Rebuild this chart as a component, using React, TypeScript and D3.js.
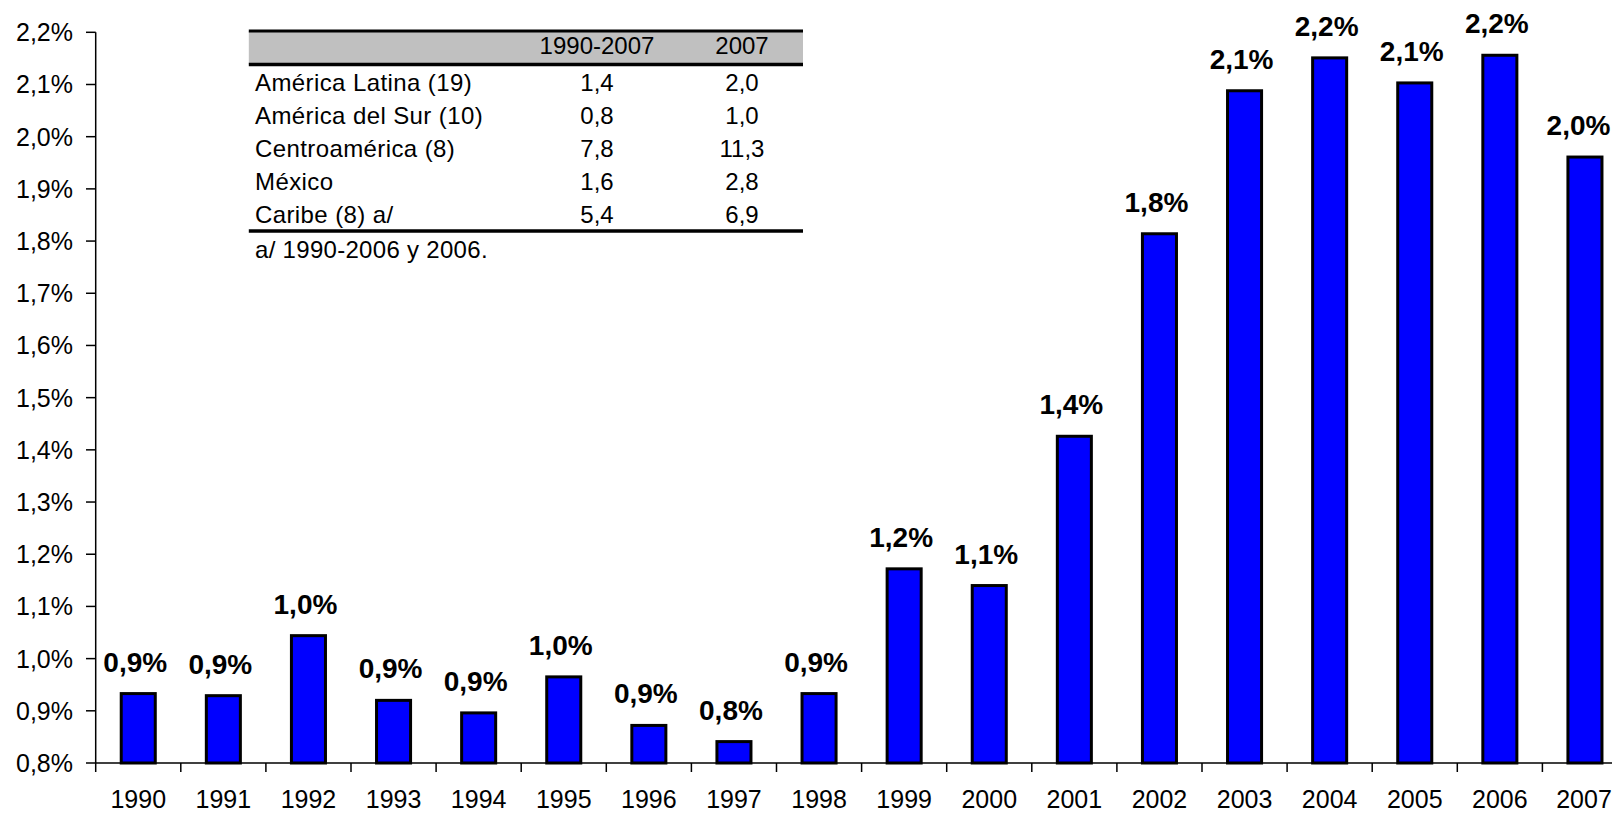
import React from "react";
import * as d3 from "d3";

const years = ["1990","1991","1992","1993","1994","1995","1996","1997","1998","1999","2000","2001","2002","2003","2004","2005","2006","2007"];
const values = [0.933,0.929,1.044,0.920,0.896,0.965,0.872,0.841,0.933,1.172,1.140,1.426,1.814,2.088,2.151,2.103,2.156,1.961];
const yTicks = [0.8,0.9,1.0,1.1,1.2,1.3,1.4,1.5,1.6,1.7,1.8,1.9,2.0,2.1,2.2];

const tableHeader = ["", "1990-2007", "2007"];
const tableRegions = ["América Latina (19)", "América del Sur (10)", "Centroamérica (8)", "México", "Caribe (8) a/"];
const tablePeriod = ["1,4", "0,8", "7,8", "1,6", "5,4"];
const tableYear = ["2,0", "1,0", "11,3", "2,8", "6,9"];
const tableNote = "a/ 1990-2006 y 2006.";

const W = 1612, H = 814;
const FONT = "'Liberation Sans', Arial, Helvetica, sans-serif";

const fmt = (v: number) => v.toFixed(1).replace(".", ",") + "%";

export default function App() {
  const x0 = 95.7, step = 85.1;
  const x = d3.scaleBand<string>().domain(years).range([x0, x0 + step * years.length]).paddingInner(0.6).paddingOuter(0.3);
  const y = d3.scaleLinear().domain([0.8, 2.2]).range([763, 32.3]);
  const yBase = y(0.8);

  // table geometry
  const tL = 248.8, tR = 803;
  const tTop = 31, hdrBottom = 64.5, tBottom = 231;
  const col1 = 597, col2 = 742;
  const rowY = d3.scaleLinear().domain([0, 4]).range([90.5, 222.5]);

  const labelHalf = 32.5;

  return (
    <svg width={W} height={H} style={{ position: "fixed", left: 0, top: 0, background: "#fff" }} fontFamily={FONT}>
      <rect x={0} y={0} width={W} height={H} fill="#fff" />
      {/* bars */}
      {years.map((yr, i) => {
        const v = values[i];
        const bx = x(yr)!;
        const bw = x.bandwidth();
        const lx = Math.min(bx + bw / 2 - 3, W - 1 - labelHalf);
        return (
          <g key={yr}>
            <rect x={bx} y={y(v)} width={bw} height={yBase - y(v)} fill="#0000FF" stroke="#000" strokeWidth={3} />
            <text x={lx} y={y(v) - 22} textAnchor="middle" fontSize={28} fontWeight="bold" fill="#000">{fmt(v)}</text>
          </g>
        );
      })}
      {/* y axis */}
      <line x1={x0} x2={x0} y1={y(2.2)} y2={yBase} stroke="#000" strokeWidth={1.5} />
      {yTicks.map((t) => (
        <g key={t}>
          <line x1={86} x2={x0} y1={y(t)} y2={y(t)} stroke="#000" strokeWidth={1.5} />
          <text x={73} y={y(t)} dy="0.36em" textAnchor="end" fontSize={25} fill="#000">{fmt(t)}</text>
        </g>
      ))}
      {/* x axis */}
      <line x1={x0} x2={W} y1={yBase} y2={yBase} stroke="#000" strokeWidth={1.5} />
      {years.map((yr, i) => (
        <line key={"t" + yr} x1={x0 + i * step} x2={x0 + i * step} y1={yBase} y2={yBase + 9} stroke="#000" strokeWidth={1.5} />
      ))}
      {years.map((yr) => (
        <text key={"l" + yr} x={Math.min(x(yr)! + x.bandwidth() / 2, W - 28)} y={808} textAnchor="middle" fontSize={25} fill="#000">{yr}</text>
      ))}
      {/* table */}
      <rect x={tL} y={tTop} width={tR - tL} height={hdrBottom - tTop} fill="#C0C0C0" />
      <line x1={tL} x2={tR} y1={tTop} y2={tTop} stroke="#000" strokeWidth={3} />
      <line x1={tL} x2={tR} y1={hdrBottom} y2={hdrBottom} stroke="#000" strokeWidth={3.5} />
      <line x1={tL} x2={tR} y1={tBottom} y2={tBottom} stroke="#000" strokeWidth={3.5} />
      <text x={col1} y={54} textAnchor="middle" fontSize={24} fill="#000">{tableHeader[1]}</text>
      <text x={col2} y={54} textAnchor="middle" fontSize={24} fill="#000">{tableHeader[2]}</text>
      {tableRegions.map((r, i) => (
        <g key={r}>
          <text x={255} y={rowY(i)} fontSize={24} letterSpacing={0.4} fill="#000">{r}</text>
          <text x={col1} y={rowY(i)} textAnchor="middle" fontSize={24} fill="#000">{tablePeriod[i]}</text>
          <text x={col2} y={rowY(i)} textAnchor="middle" fontSize={24} fill="#000">{tableYear[i]}</text>
        </g>
      ))}
      <text x={255} y={258} fontSize={24} letterSpacing={0.3} fill="#000">{tableNote}</text>
    </svg>
  );
}
